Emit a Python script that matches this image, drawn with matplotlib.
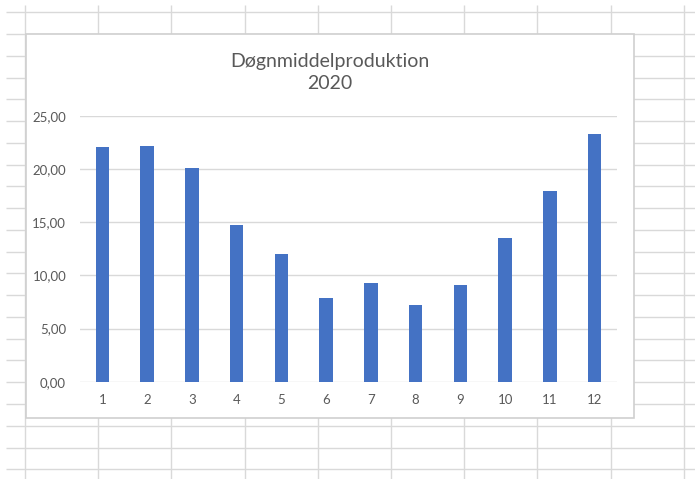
import matplotlib
matplotlib.use("Agg")
import matplotlib.pyplot as plt
from matplotlib.patches import Rectangle

# Monthly daily-average production, 2020
months = [1, 2, 3, 4, 5, 6, 7, 8, 9, 10, 11, 12]
month_labels = ["1", "2", "3", "4", "5", "6", "7", "8", "9", "10", "11", "12"]
production = [22.1, 22.2, 20.1, 14.7, 12.0, 7.9, 9.3, 7.2, 9.1, 13.5, 17.9, 23.3]
y_ticks = [0, 5, 10, 15, 20, 25]
y_tick_labels = ["0,00", "5,00", "10,00", "15,00", "20,00", "25,00"]
title_text = "Døgnmiddelproduktion\n2020"

W, H = 695, 479
DPI = 100
TEXT = "#595959"
GRID = "#d9d9d9"
BAR = "#4472C4"
FONT = ["Lato", "DejaVu Sans"]

fig = plt.figure(figsize=(W / DPI, H / DPI), dpi=DPI)
fig.patch.set_facecolor("white")

# Spreadsheet cell grid behind the chart (pixel coordinates)
bg = fig.add_axes([0, 0, 1, 1], zorder=0)
bg.set_xlim(0, W)
bg.set_ylim(H, 0)
bg.axis("off")
row_h, col_w = 21.76, 73.2
rows = [12.3 + k * row_h for k in range(22)]
cols = [25 + k * col_w for k in range(10)]
bg.hlines(rows, 6, W, color=GRID, lw=1.0)
bg.vlines(cols, 5, H, color=GRID, lw=1.0)

# Chart area box
box_l, box_t, box_r, box_b = 26, 34, 634, 418
fig.patches.append(Rectangle((box_l / W, 1 - box_b / H), (box_r - box_l) / W,
                             (box_b - box_t) / H, transform=fig.transFigure,
                             facecolor="white", edgecolor="#d0d0d0", lw=1.2,
                             zorder=1))

# Plot area
pl, pr, p0, p25 = 80, 617, 381.7, 116.0
ax = fig.add_axes([pl / W, 1 - p0 / H, (pr - pl) / W, (p0 - p25) / H], zorder=2)
ax.patch.set_alpha(0)
ax.bar(months, production, width=0.3, color=BAR, zorder=3)
ax.set_xlim(0.5, 12.5)
ax.set_ylim(0, 25)
ax.set_yticks(y_ticks)
ax.set_yticklabels(y_tick_labels)
ax.set_xticks(months)
ax.set_xticklabels(month_labels)
ax.grid(axis="y", color=GRID, lw=1.0, zorder=0)
ax.set_axisbelow(True)
for s in ax.spines.values():
    s.set_visible(False)
ax.tick_params(length=0, colors=TEXT, labelsize=9.5)
ax.tick_params(axis="y", pad=10)
ax.tick_params(axis="x", pad=9)
for lab in ax.get_xticklabels() + ax.get_yticklabels():
    lab.set_family(FONT)

fig.text((box_l + box_r) / 2 / W, 1 - 72.7 / H, title_text, ha="center",
         va="center", ma="center", color=TEXT, fontsize=14, family=FONT,
         linespacing=1.35, zorder=4)

fig.savefig("out.png", dpi=DPI, facecolor="white")
